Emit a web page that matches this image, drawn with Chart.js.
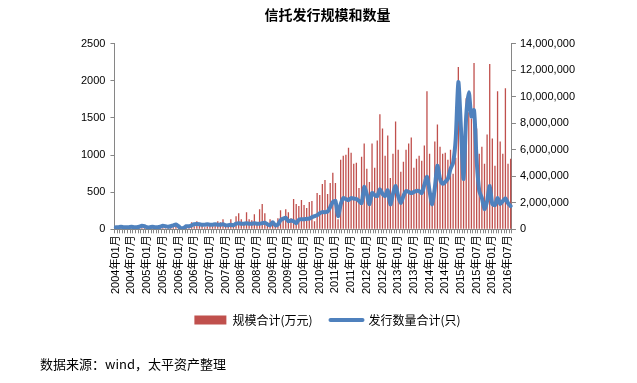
<!DOCTYPE html>
<html>
<head>
<meta charset="utf-8">
<script src="https://cdn.jsdelivr.net/npm/chart.js@4.4.1/dist/chart.umd.min.js"></script>
<style>
  html, body { margin: 0; padding: 0; background: #ffffff; }
  #wrap { position: relative; width: 637px; height: 383px; }
  #source { position: absolute; left: 40px; top: 354px; font-family: "Noto Sans CJK SC", sans-serif; font-size: 13px; color: #000; white-space: nowrap; }
</style>
</head>
<body>
<div id="wrap">
  <canvas id="c" width="637" height="383"></canvas>
  <div id="source">数据来源：wind，太平资产整理</div>
</div>
<script>
// ---- data ----
const startYear = 2004, endYear = 2016, endMonth = 8;
const categories = [];
for (let y = startYear; y <= endYear; y++) {
  for (let m = 1; m <= 12; m++) {
    if (y === endYear && m > endMonth) break;
    categories.push(y + '年' + String(m).padStart(2, '0') + '月');
  }
}

// 规模合计(万元) — right axis
const scaleValues = [
  76000,76000,114000,76000,76000,152000,76000,114000,76000,76000,
  152000,114000,76000,114000,76000,152000,76000,114000,152000,76000,
  152000,114000,152000,
  457000,228000,152000,152000,228000,228000,533000,228000,609000,304000,
  304000,152000,228000,380000,228000,304000,609000,533000,761000,304000,
  380000,761000,228000,989000,1217000,761000,380000,1294000,761000,685000,
  1141000,380000,1522000,1902000,1217000,457000,761000,457000,304000,837000,
  1446000,761000,1522000,1294000,837000,2283000,1902000,1750000,2207000,1826000,
  1598000,2054000,2130000,609000,2739000,2587000,3424000,3728000,2663000,3500000,
  4261000,3500000,761000,5250000,5554000,5630000,6163000,5783000,4946000,5022000,
  3120000,5478000,6467000,4565000,3576000,6467000,4641000,6696000,8674000,7609000,
  5554000,7076000,3880000,5707000,8141000,6011000,4337000,5098000,6011000,6467000,
  6924000,4641000,5326000,5554000,5174000,6315000,10424000,5707000,2739000,6620000,
  7913000,6239000,5707000,5783000,5250000,6011000,4185000,5402000,12250000,5935000,
  5402000,9891000,8826000,8370000,12554000,7609000,5707000,6239000,4946000,7152000,
  12478000,6848000,4793000,10424000,6620000,5707000,10652000,4946000,5326000
];

// 发行数量合计(只) — left axis
const countValues = [
  27,27,34,27,27,27,34,27,27,34,
  48,41,27,27,34,27,27,34,48,41,
  34,41,54,64,41,14,20,41,41,54,
  68,72,68,61,61,68,61,61,68,61,
  61,68,54,54,61,54,75,82,75,75,
  82,75,75,82,75,75,82,88,68,54,
  95,54,64,122,143,154,109,118,109,82,
  129,136,136,140,143,163,177,190,217,231,
  231,238,299,367,381,177,336,421,408,394,
  421,414,408,381,353,571,472,336,489,462,
  448,540,476,448,526,336,476,584,448,353,
  448,516,503,489,503,516,516,489,598,707,
  516,336,557,856,680,612,639,680,815,897,
  1223,1984,1359,680,1522,1848,1522,1604,924,516,
  421,272,381,584,340,326,421,340,381,417,353,313
];

const leftTicks = { min: 0, max: 2500, step: 500 };
const rightTicks = { min: 0, max: 14000000, step: 2000000 };

// ---- chart ----
const AXIS = '#868686';
const FONT = '"Liberation Sans", "Noto Sans CJK SC", sans-serif';

new Chart(document.getElementById('c'), {
  data: {
    labels: categories,
    datasets: [
      {
        type: 'bar',
        label: '规模合计(万元)',
        data: scaleValues,
        yAxisID: 'yR',
        backgroundColor: '#C0504D',
        barPercentage: 0.5,
        categoryPercentage: 1.0,
        order: 2
      },
      {
        type: 'line',
        label: '发行数量合计(只)',
        data: countValues,
        yAxisID: 'yL',
        borderColor: '#4F81BD',
        backgroundColor: '#4F81BD',
        borderWidth: 4,
        pointRadius: 0,
        tension: 0.25,
        borderJoinStyle: 'round',
        borderCapStyle: 'round',
        order: 1
      }
    ]
  },
  options: {
    responsive: false,
    animation: false,
    devicePixelRatio: 1,
    layout: { padding: { left: 76, right: 58, top: 4, bottom: 47 } },
    plugins: {
      title: {
        display: true,
        text: '信托发行规模和数量',
        color: '#000',
        font: { family: '"Noto Sans CJK SC", sans-serif', size: 14, weight: 'bold' },
        padding: { top: 2, bottom: 21 }
      },
      legend: {
        display: true,
        position: 'bottom',
        labels: {
          usePointStyle: true,
          pointStyleWidth: 32,
          boxHeight: 9,
          padding: 18,
          color: '#000',
          font: { family: '"Noto Sans CJK SC", sans-serif', size: 12 },
          generateLabels(chart) {
            return chart.data.datasets.map((ds, i) => ({
              text: ds.label,
              datasetIndex: i,
              pointStyle: ds.type === 'line' ? 'line' : 'rect',
              fillStyle: ds.type === 'line' ? '#4F81BD' : '#C0504D',
              strokeStyle: ds.type === 'line' ? '#4F81BD' : '#C0504D',
              lineWidth: ds.type === 'line' ? 4 : 0,
              lineCap: 'round',
              hidden: false
            }));
          }
        }
      },
      tooltip: { enabled: false }
    },
    scales: {
      x: {
        offset: true,
        grid: { display: true, drawOnChartArea: false, drawTicks: true, tickLength: 4, color: AXIS, offset: true },
        border: { display: true, color: AXIS, width: 1 },
        ticks: {
          autoSkip: false,
          maxRotation: 90,
          minRotation: 90,
          padding: 2,
          color: '#000',
          font: { family: FONT, size: 11 },
          callback(value, index) {
            const lab = categories[index];
            return (lab.endsWith('01月') || lab.endsWith('07月')) ? lab : '';
          }
        }
      },
      yL: {
        type: 'linear',
        position: 'left',
        min: leftTicks.min,
        max: leftTicks.max,
        grid: { display: true, drawOnChartArea: false, drawTicks: true, tickLength: 4, color: AXIS },
        border: { display: true, color: AXIS, width: 1 },
        ticks: {
          stepSize: leftTicks.step,
          padding: 5,
          color: '#000',
          font: { family: FONT, size: 11 },
          callback(v) { return String(v); }
        }
      },
      yR: {
        type: 'linear',
        position: 'right',
        min: rightTicks.min,
        max: rightTicks.max,
        grid: { display: true, drawOnChartArea: false, drawTicks: true, tickLength: 4, color: AXIS },
        border: { display: true, color: AXIS, width: 1 },
        ticks: {
          stepSize: rightTicks.step,
          padding: 4,
          color: '#000',
          font: { family: FONT, size: 11 },
          callback(v) { return v.toLocaleString('en-US'); }
        }
      }
    }
  }
});
</script>
</body>
</html>
